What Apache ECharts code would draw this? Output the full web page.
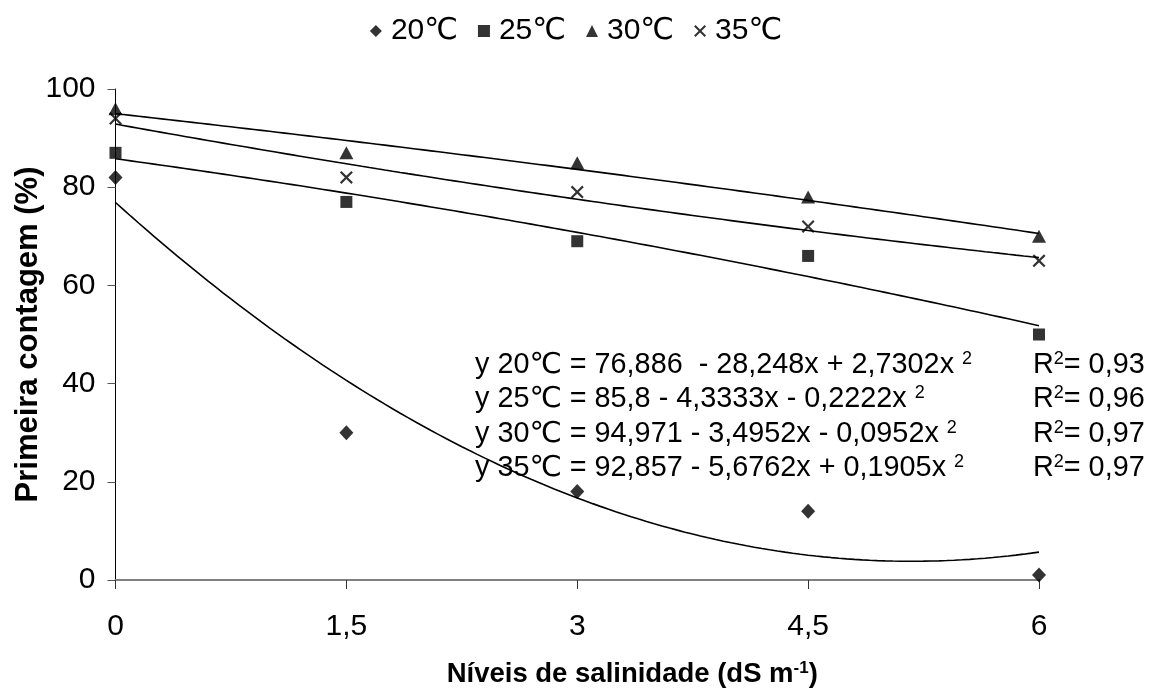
<!DOCTYPE html>
<html>
<head>
<meta charset="utf-8">
<script src="https://cdn.jsdelivr.net/npm/echarts@6/dist/echarts.min.js"></script>
<style>
  html, body { margin: 0; padding: 0; background: #fff; }
  #chart { width: 1152px; height: 688px; }
</style>
</head>
<body>
<div id="chart"></div>
<script>
// Salinity levels (dS m-1) on the x axis
const salinity = [0, 1.5, 3, 4.5, 6];

// First count (%) observed at each temperature
const names = ['20℃', '25℃', '30℃', '35℃'];
const obs20 = [82, 30, 18, 14, 1];
const obs25 = [87, 77, 69, 66, 50];
const obs30 = [96, 87, 85, 78, 70];
const obs35 = [94, 82, 79, 72, 65];

// Fitted quadratic coefficients [a, b, c] for y = a + b·x + c·x²
const fit20 = [76.886, -28.248, 2.7302];
const fit25 = [85.8, -4.3333, -0.2222];
const fit30 = [94.971, -3.4952, -0.0952];
const fit35 = [92.857, -5.6762, 0.1905];

// Equation and R² labels
const eqText = [
  'y 20℃ = 76,886  - 28,248x + 2,7302x {sup|2}',
  'y 25℃ = 85,8 - 4,3333x - 0,2222x {sup|2}',
  'y 30℃ = 94,971 - 3,4952x - 0,0952x {sup|2}',
  'y 35℃ = 92,857 - 5,6762x + 0,1905x {sup|2}'
];
const r2Text = ['0,93', '0,96', '0,97', '0,97'];

const yTicks = { min: 0, max: 100, interval: 20 };
const xTicks = { min: 0, max: 6, interval: 1.5 };

const FONT = '"Liberation Sans", Arial, "DejaVu Sans", sans-serif';

const observed = [obs20, obs25, obs30, obs35];
const fits = [fit20, fit25, fit30, fit35];
const symbols = [
  'diamond',
  'rect',
  'triangle',
  'path://M0,1.2L1.2,0L5,3.8L8.8,0L10,1.2L6.2,5L10,8.8L8.8,10L5,6.2L1.2,10L0,8.8L3.8,5Z'
];
const symbolSizes = [[14, 15], 12, [14, 13], 13];

// Trend curve drawn from the fitted coefficients across the salinity range
function trendCurve(c) {
  const pts = [];
  for (let i = 0; i <= 120; i++) {
    const x = i * 0.05;
    pts.push([x, c[0] + c[1] * x + c[2] * x * x]);
  }
  return pts;
}

const series = [];
names.forEach((name, k) => {
  series.push({
    name: name,
    type: 'scatter',
    symbol: symbols[k],
    symbolSize: symbolSizes[k],
    itemStyle: { color: '#000' },
    data: salinity.map((x, i) => [x, observed[k][i]]),
    z: 3
  });
  series.push({
    type: 'line',
    data: trendCurve(fits[k]),
    showSymbol: false,
    smooth: false,
    lineStyle: { color: '#000', width: 1.6 },
    silent: true,
    z: 2
  });
});

const EQ_SIZE = 28.8;
const richSup = {
  sup: { fontSize: 18, fontFamily: FONT, fill: '#000', verticalAlign: 'top', lineHeight: 16 }
};

const graphics = [];
eqText.forEach((t, k) => {
  const cy = 365 + k * 34.3;
  graphics.push({
    type: 'text',
    x: 475, y: cy,
    style: {
      text: t,
      fontSize: EQ_SIZE, fontFamily: FONT, fill: '#000',
      verticalAlign: 'middle',
      lineHeight: 30,
      rich: richSup
    }
  });
  graphics.push({
    type: 'text',
    x: 1033, y: cy,
    style: {
      text: 'R{sup|2}= ' + r2Text[k],
      fontSize: EQ_SIZE, fontFamily: FONT, fill: '#000',
      verticalAlign: 'middle',
      lineHeight: 30,
      rich: richSup
    }
  });
});

const chart = echarts.init(document.getElementById('chart'), null, { renderer: 'canvas' });
chart.setOption({
  animation: false,
  backgroundColor: '#fff',
  textStyle: { fontFamily: FONT },
  legend: {
    data: names,
    top: 11,
    left: 'center',
    itemWidth: 12,
    itemHeight: 12,
    itemGap: 20,
    textStyle: { fontSize: 30, color: '#000', fontFamily: FONT, padding: [0, 0, 0, 4] }
  },
  grid: {
    left: 115.5, right: 113, top: 89, bottom: 108,
    containLabel: false,
    outerBoundsMode: 'none'
  },
  xAxis: {
    type: 'value',
    min: xTicks.min, max: xTicks.max, interval: xTicks.interval,
    name: 'Níveis de salinidade (dS m{sup|-1})',
    nameLocation: 'middle',
    nameGap: 80,
    nameMoveOverlap: false,
    nameTextStyle: {
      fontSize: 27.5, fontWeight: 'bold', color: '#000', fontFamily: FONT,
      padding: [0, 0, 0, 110],
      rich: { sup: { fontSize: 17, fontWeight: 'bold', verticalAlign: 'top', lineHeight: 16, fontFamily: FONT } }
    },
    axisLine: { show: true, lineStyle: { color: '#808080', width: 2 } },
    axisTick: { show: true, length: 9, lineStyle: { color: '#333', width: 1 } },
    axisLabel: {
      fontSize: 30, color: '#000', margin: 32, fontFamily: FONT,
      formatter: v => String(v).replace('.', ',')
    },
    splitLine: { show: false }
  },
  yAxis: {
    type: 'value',
    min: yTicks.min, max: yTicks.max, interval: yTicks.interval,
    name: 'Primeira contagem (%)',
    nameLocation: 'middle',
    nameGap: 72,
    nameMoveOverlap: false,
    nameTextStyle: { fontSize: 31, fontWeight: 'bold', color: '#000', fontFamily: FONT },
    axisLine: { show: true, onZero: false, lineStyle: { color: '#000', width: 1 } },
    axisTick: { show: true, length: 8, lineStyle: { color: '#555', width: 1 } },
    axisLabel: { fontSize: 30, color: '#000', margin: 20, fontFamily: FONT },
    splitLine: { show: false }
  },
  graphic: graphics,
  series: series
});
</script>
</body>
</html>
